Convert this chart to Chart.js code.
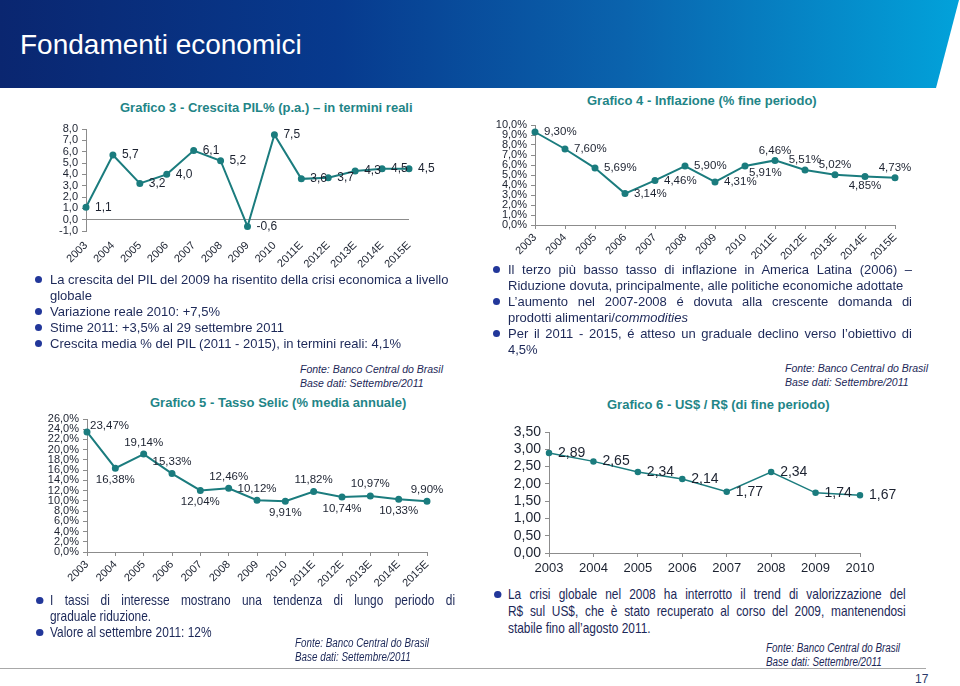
<!DOCTYPE html>
<html>
<head>
<meta charset="utf-8">
<script src="https://cdn.jsdelivr.net/npm/chart.js@4.4.1/dist/chart.umd.min.js"></script>
<style>
  body { margin: 0; width: 960px; height: 686px; position: relative; overflow: hidden; background: #fff;
         font-family: "Liberation Sans", Arial, sans-serif; color: #1c2858; }
  .banner { position: absolute; left: 0; top: 0; width: 960px; height: 88px;
            background: linear-gradient(90deg, #0a2670 0%, #073a8e 35%, #0a63ad 65%, #02a2da 100%);
            clip-path: polygon(0 0, 959px 0, 936px 88px, 0 88px); }
  .banner h1 { margin: 0; position: absolute; left: 20px; top: 28px; font-size: 28px; font-weight: normal;
               color: #fff; line-height: 34px; }
  .title { position: absolute; font-weight: bold; font-size: 13px; color: #1f8587; white-space: nowrap; }
  .box { position: absolute; }
  .chartbox canvas { display: block; }
  .txt { position: absolute; font-size: 13px; line-height: 16px; }
  .txt .b { position: relative; white-space: nowrap; }
  .txt .b::before { content: ""; position: absolute; left: -15px; top: 4px; width: 7px; height: 7px;
                    border-radius: 50%; background: #22379a; }
  .txt .j { text-align: justify; text-align-last: justify; white-space: nowrap; }
  .narrow { font-size: 14.5px; transform: scaleX(0.82); transform-origin: 0 0; }
  .txt.narrow .b::before { width: 8.5px; left: -17px; top: 5px; }
  .src { position: absolute; font-style: italic; font-size: 10.5px; line-height: 14px; color: #1c2858; white-space: nowrap; }
  .src.narrow { font-size: 12px; }
  .rule { position: absolute; left: 0; top: 668px; width: 926px; height: 1px; background: #a8a8a8; }
  .page { position: absolute; left: 915px; top: 672px; font-size: 12px; color: #2a3a6a; }
</style>
</head>
<body>
<div class="banner"><h1>Fondamenti economici</h1></div>

<div class="title" style="left:120px; top:100px;">Grafico 3 - Crescita PIL% (p.a.) – in termini reali</div>
<div class="title" style="left:587px; top:93px;">Grafico 4 - Inflazione (% fine periodo)</div>
<div class="title" style="left:150px; top:395px;">Grafico 5 - Tasso Selic (% media annuale)</div>
<div class="title" style="left:607px; top:397px;">Grafico 6 - US$ / R$ (di fine periodo)</div>

<div class="box chartbox" style="left:30px; top:118px;"><canvas id="c3" width="412" height="155"></canvas></div>
<div class="box chartbox" style="left:480px; top:115px;"><canvas id="c4" width="455" height="150"></canvas></div>
<div class="box chartbox" style="left:30px; top:408px;"><canvas id="c5" width="430" height="185"></canvas></div>
<div class="box chartbox" style="left:480px; top:420px;"><canvas id="c6" width="430" height="160"></canvas></div>

<div class="txt" style="left:50px; top:272px; width:410px;">
  <div class="b">La crescita del PIL del 2009 ha risentito della crisi economica a livello<br>globale</div>
  <div class="b">Variazione reale 2010: +7,5%</div>
  <div class="b">Stime 2011: +3,5% al 29 settembre 2011</div>
  <div class="b">Crescita media % del PIL (2011 - 2015), in termini reali: 4,1%</div>
</div>
<div class="src" style="left:300px; top:362px;">Fonte: Banco Central do Brasil<br>Base dati: Settembre/2011</div>

<div class="txt" style="left:508px; top:262px; width:404px;">
  <div class="b"><div class="j">Il terzo più basso tasso di inflazione in America Latina (2006) –</div>Riduzione dovuta, principalmente, alle politiche economiche adottate</div>
  <div class="b"><div class="j">L’aumento nel 2007-2008 é dovuta alla crescente domanda di</div>prodotti alimentari/<i>commodities</i></div>
  <div class="b"><div class="j">Per il 2011 - 2015, é atteso un graduale declino verso l’obiettivo di</div>4,5%</div>
</div>
<div class="src" style="left:785px; top:361px;">Fonte: Banco Central do Brasil<br>Base dati: Settembre/2011</div>

<div class="txt narrow" style="left:50px; top:592px; width:494px;">
  <div class="b"><div class="j">I tassi di interesse mostrano una tendenza di lungo periodo di</div>graduale riduzione.</div>
  <div class="b">Valore al settembre 2011: 12%</div>
</div>
<div class="src narrow" style="left:295px; top:636px;">Fonte: Banco Central do Brasil<br>Base dati: Settembre/2011</div>

<div class="txt narrow" style="left:508px; top:586px; width:485px; line-height:17px;">
  <div class="b"><div class="j">La crisi globale nel 2008 ha interrotto il trend di valorizzazione del</div><div class="j">R$ sul US$, che è stato recuperato al corso del 2009, mantenendosi</div>stabile fino all’agosto 2011.</div>
</div>
<div class="src narrow" style="left:766px; top:641px;">Fonte: Banco Central do Brasil<br>Base dati: Settembre/2011</div>

<div class="rule"></div>
<div class="page">17</div>

<script>
// --- data ---
const years = ['2003', '2004', '2005', '2006', '2007', '2008', '2009', '2010', '2011E', '2012E', '2013E', '2014E', '2015E'];
const fxYears = ['2003', '2004', '2005', '2006', '2007', '2008', '2009', '2010'];

const pilGrowth = [1.1, 5.7, 3.2, 4.0, 6.1, 5.2, -0.6, 7.5, 3.6, 3.7, 4.3, 4.5, 4.5];
const inflation = [9.30, 7.60, 5.69, 3.14, 4.46, 5.90, 4.31, 5.91, 6.46, 5.51, 5.02, 4.85, 4.73];
const selicRate = [23.47, 16.38, 19.14, 15.33, 12.04, 12.46, 10.12, 9.91, 11.82, 10.74, 10.97, 10.33, 9.90];
const usdBrl = [2.89, 2.65, 2.34, 2.14, 1.77, 2.34, 1.74, 1.67];

const pilTicks = [-1, 0, 1, 2, 3, 4, 5, 6, 7, 8];
const inflTicks = [0, 1, 2, 3, 4, 5, 6, 7, 8, 9, 10];
const selicTicks = [0, 2, 4, 6, 8, 10, 12, 14, 16, 18, 20, 22, 24, 26];
const fxTicks = [0, 0.5, 1, 1.5, 2, 2.5, 3, 3.5];

// where each value label sits relative to its point: r=right, a=above, b=below, ar/br=diagonal
const inflPlace = ['r', 'r', 'r', 'r', 'r', 'r', 'r', 'br', 'a', 'a', 'a', 'b', 'a'];
const selicPlace = ['ar', 'b', 'a', 'a', 'b', 'a', 'a', 'b', 'a', 'b', 'a', 'b', 'a'];

const TEAL = '#1b7c7e';
const FONT = '"Liberation Sans", Arial, sans-serif';
Chart.defaults.font.family = FONT;
Chart.defaults.color = '#1c2230';

const comma = (v, d) => v.toFixed(d).replace('.', ',');

const valueLabels = {
  id: 'valueLabels',
  afterDatasetsDraw(chart, args, opts) {
    const { ctx } = chart;
    const meta = chart.getDatasetMeta(0);
    const data = chart.data.datasets[0].data;
    ctx.save();
    ctx.font = `${opts.size}px ${FONT}`;
    ctx.fillStyle = '#1c2230';
    meta.data.forEach((pt, i) => {
      const place = (opts.place && opts.place[i]) || 'r';
      let x = pt.x, y = pt.y;
      if (place === 'r') { ctx.textAlign = 'left'; ctx.textBaseline = 'middle'; x += opts.gap; }
      else if (place === 'a') { ctx.textAlign = 'center'; ctx.textBaseline = 'bottom'; y -= opts.vgap; }
      else if (place === 'b') { ctx.textAlign = 'center'; ctx.textBaseline = 'top'; y += opts.vgap; }
      else if (place === 'ar') { ctx.textAlign = 'left'; ctx.textBaseline = 'middle'; x += 3; y -= 6; }
      else if (place === 'br') { ctx.textAlign = 'left'; ctx.textBaseline = 'middle'; x += 4; y += 7; }
      ctx.fillText(opts.format(data[i]), x, y);
    });
    ctx.restore();
  },
};

function lineChart(id, cfg) {
  const axisColor = '#8c8c8c';
  return new Chart(document.getElementById(id), {
    type: 'line',
    plugins: [valueLabels],
    data: {
      labels: cfg.labels,
      datasets: [{
        data: cfg.values,
        borderColor: TEAL,
        backgroundColor: TEAL,
        borderWidth: cfg.lineWidth || 2,
        pointRadius: 2.5,
        pointHoverRadius: 2.5,
        tension: 0,
      }],
    },
    options: {
      responsive: false,
      animation: false,
      events: [],
      layout: { autoPadding: false, padding: { top: cfg.padTop, right: cfg.padRight, left: 0, bottom: 0 } },
      plugins: {
        legend: { display: false },
        tooltip: { enabled: false },
        valueLabels: { place: cfg.place, format: cfg.format, size: cfg.labelSize, gap: 9, vgap: cfg.vgap || 5 },
      },
      scales: {
        x: {
          offset: false,
          border: { display: cfg.xBorder !== false, color: axisColor },
          grid: { display: cfg.xTicks !== false, drawOnChartArea: false, tickLength: 4, color: axisColor },
          ticks: {
            autoSkip: false,
            maxRotation: cfg.rotation, minRotation: cfg.rotation,
            padding: cfg.xPad || 2,
            font: { size: cfg.xFont },
            color: '#1c2230',
          },
          afterFit: (s) => { s.height = cfg.xHeight; },
        },
        y: {
          min: cfg.ticks[0],
          max: cfg.ticks[cfg.ticks.length - 1],
          border: { color: axisColor },
          grid: {
            drawOnChartArea: !!cfg.zeroLine,
            color: (c) => (cfg.zeroLine && c.tick && c.tick.value === 0 ? axisColor : 'rgba(0,0,0,0)'),
            tickColor: axisColor,
            tickLength: 4,
          },
          afterBuildTicks: (s) => { s.ticks = cfg.ticks.map((v) => ({ value: v })); },
          ticks: {
            autoSkip: false,
            padding: 4,
            font: { size: cfg.yFont, lineHeight: 1 },
            color: '#1c2230',
            callback: cfg.tickFormat,
          },
          afterFit: (s) => { s.width = cfg.yWidth; },
        },
      },
    },
  });
}

lineChart('c3', {
  labels: years, values: pilGrowth, ticks: pilTicks,
  format: (v) => comma(v, 1), tickFormat: (v) => comma(v, 1),
  zeroLine: true, xBorder: false, xTicks: false,
  rotation: 45, xFont: 11, yFont: 11, labelSize: 12,
  yWidth: 56, xHeight: 42, padTop: 11, padRight: 33, xPad: 4,
});

lineChart('c4', {
  labels: years, values: inflation, ticks: inflTicks, place: inflPlace,
  format: (v) => comma(v, 2) + '%', tickFormat: (v) => comma(v, 1) + '%',
  rotation: 45, xFont: 11, yFont: 11, labelSize: 11.5, vgap: 4,
  yWidth: 55, xHeight: 40, padTop: 10, padRight: 40,
});

lineChart('c5', {
  labels: years, values: selicRate, ticks: selicTicks, place: selicPlace,
  format: (v) => comma(v, 2) + '%', tickFormat: (v) => comma(v, 1) + '%',
  rotation: 45, xFont: 11, yFont: 11, labelSize: 11.5, vgap: 6,
  yWidth: 57, xHeight: 41, padTop: 11, padRight: 33,
});

lineChart('c6', {
  labels: fxYears, values: usdBrl, ticks: fxTicks,
  format: (v) => comma(v, 2), tickFormat: (v) => comma(v, 2),
  rotation: 0, xFont: 13, yFont: 14, labelSize: 14, lineWidth: 1.5, xPad: 4,
  yWidth: 69, xHeight: 27, padTop: 12, padRight: 50,
});
</script>
</body>
</html>
